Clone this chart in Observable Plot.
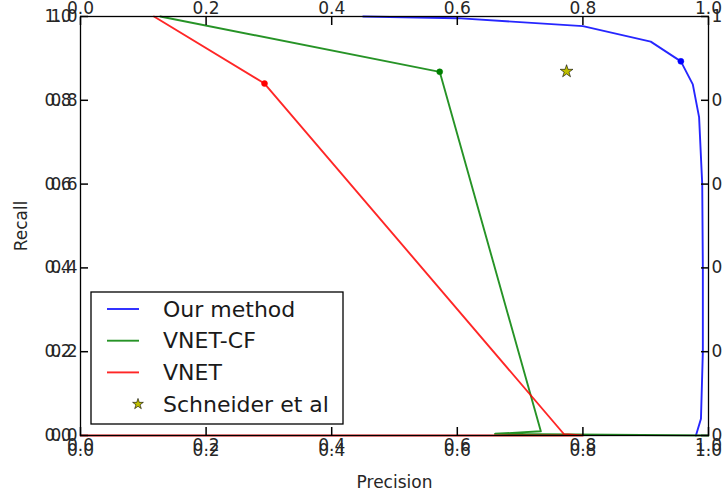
<!DOCTYPE html>
<html><head><meta charset="utf-8">
<script src="https://cdn.jsdelivr.net/npm/d3@7"></script>
<script src="https://cdn.jsdelivr.net/npm/@observablehq/plot@0.6"></script>
<style>
body{margin:0;background:#fff;}
#chart{width:722px;height:491px;}
</style>
</head><body><div id="chart"></div>
<script>
// ---- data ----
const seriesNames = ["Our method", "VNET-CF", "VNET"];
const seriesColors = ["#0000ff", "#008000", "#ff0000"];

const ourPrecision = [0.45, 0.60, 0.80, 0.908, 0.956, 0.975, 0.985, 0.990, 0.991, 0.991, 0.988, 0.980];
const ourRecall    = [1.00, 0.996, 0.977, 0.940, 0.893, 0.838, 0.760, 0.600, 0.400, 0.200, 0.040, 0.000];
const ourMarker = [0.956, 0.893];

const cfPrecision = [0.127, 0.572, 0.733, 0.660, 1.000];
const cfRecall    = [1.000, 0.868, 0.010, 0.004, 0.000];
const cfMarker = [0.572, 0.868];

const vnetPrecision = [0.117, 0.293, 0.770, 0.800, 0.000];
const vnetRecall    = [1.000, 0.840, 0.003, 0.000, 0.000];
const vnetMarker = [0.293, 0.840];

const schneiderName = "Schneider et al";
const schneiderPrecision = [0.774];
const schneiderRecall = [0.869];
const schneiderColor = "#bfbf00";

const tickValues = [0, 0.2, 0.4, 0.6, 0.8, 1.0];

// ---- build tables ----
const toRows = (xs, ys) => xs.map((x, i) => ({x, y: ys[i]}));
const series = [
  toRows(ourPrecision, ourRecall),
  toRows(cfPrecision, cfRecall),
  toRows(vnetPrecision, vnetRecall)
];
const markers = [ourMarker, cfMarker, vnetMarker].map(([x, y], i) => ({x, y, c: seriesColors[i]}));
const schneider = toRows(schneiderPrecision, schneiderRecall);

const W = 722, H = 491;
const mL = 80, mR = 14, mT = 16, mB = 56;
const tickLen = 8;
const fmt = d3.format(".1f");
const font = "DejaVu Sans, sans-serif";

const marks = [];
series.forEach((rows, i) => {
  marks.push(Plot.line(rows, {x: "x", y: "y", stroke: seriesColors[i], strokeWidth: 1.9, strokeOpacity: 0.85}));
});
marks.push(Plot.dot(markers, {x: "x", y: "y", fill: "c", r: 3, stroke: "c", strokeWidth: 0.5}));
marks.push(Plot.dot(schneider, {x: "x", y: "y", symbol: "star", r: 4, fill: schneiderColor, stroke: "#000", strokeWidth: 0.6}));
marks.push(Plot.frame({stroke: "#000", strokeWidth: 1.3}));
// inward ticks on all four sides (axis ticks shifted inside the frame)
const tickStyle = {tickSize: tickLen, tickFormat: null, label: null, stroke: "#000", strokeWidth: 1.5};
marks.push(Plot.axisX(tickValues, {anchor: "bottom", dy: -tickLen, ...tickStyle}));
marks.push(Plot.axisX(tickValues, {anchor: "top", dy: tickLen, ...tickStyle}));
marks.push(Plot.axisY(tickValues, {anchor: "left", dx: tickLen, ...tickStyle}));
marks.push(Plot.axisY(tickValues, {anchor: "right", dx: -tickLen, ...tickStyle}));
// tick labels
marks.push(Plot.axisX(tickValues, {anchor: "bottom", tickSize: 0, tickPadding: 8, tickFormat: fmt, fontSize: 17, fill: "#262626", label: "Precision", labelArrow: "none", labelAnchor: "center", labelOffset: 52}));
marks.push(Plot.axisY(tickValues, {anchor: "left", tickSize: 0, tickPadding: 9, tickFormat: fmt, fontSize: 17, fill: "#262626", label: "Recall", labelArrow: "none", labelAnchor: "center", labelOffset: 66}));

const svg = Plot.plot({
  width: W, height: H,
  marginLeft: mL, marginRight: mR, marginTop: mT, marginBottom: mB,
  style: {fontFamily: font, fontSize: "17px", color: "#262626"},
  x: {domain: [0, 1]},
  y: {domain: [0, 1]},
  marks
});
document.getElementById("chart").appendChild(svg);

// ---- legend ----
const root = d3.select(svg);
const lg = root.append("g").attr("font-family", font).attr("font-size", 22).attr("text-anchor", "start");
const boxX = mL + 11, boxY = H - mB - 143, boxW = 252, boxH = 132;
lg.append("rect").attr("x", boxX).attr("y", boxY).attr("width", boxW).attr("height", boxH)
  .attr("fill", "#fff").attr("stroke", "#000").attr("stroke-width", 1.3);
const rowY = i => boxY + 17 + i * 31.7;
seriesNames.forEach((name, i) => {
  lg.append("line").attr("x1", boxX + 16).attr("x2", boxX + 48).attr("y1", rowY(i)).attr("y2", rowY(i))
    .attr("stroke", seriesColors[i]).attr("stroke-width", 1.9).attr("stroke-opacity", 0.85);
  lg.append("text").attr("x", boxX + 72).attr("y", rowY(i)).attr("dy", "0.35em").attr("fill", "#1a1a1a").text(name);
});
const starPath = d3.symbol(d3.symbolStar, 36)();
lg.append("path").attr("d", starPath).attr("transform", `translate(${boxX + 47},${rowY(3)})`)
  .attr("fill", schneiderColor).attr("stroke", "#000").attr("stroke-width", 0.6);
lg.append("text").attr("x", boxX + 72).attr("y", rowY(3)).attr("dy", "0.35em").attr("fill", "#1a1a1a").text(schneiderName);
</script>
</body></html>
